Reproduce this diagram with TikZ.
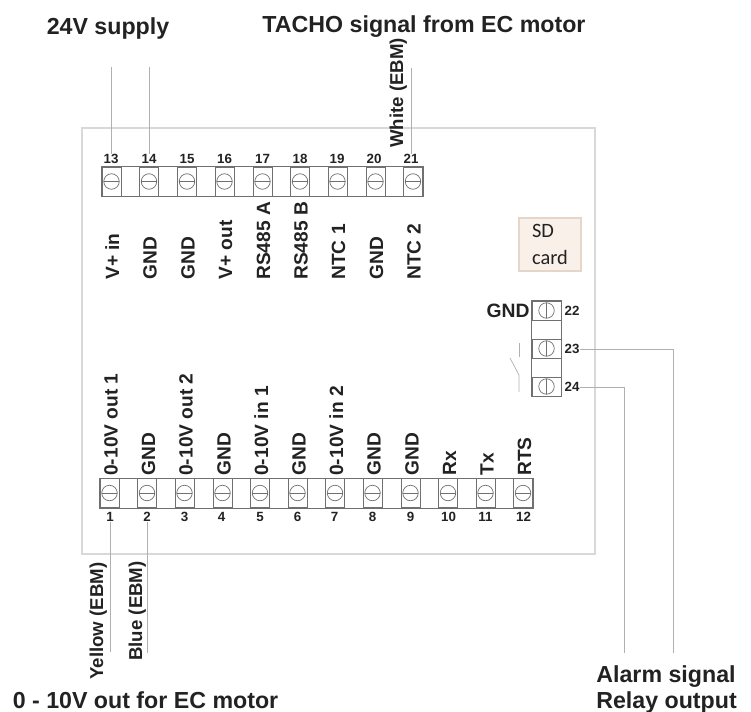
\documentclass[tikz,border=0pt]{standalone}
\usepackage{fontspec}
\setmainfont{Liberation Sans}
\newfontfamily\cardfont{Carlito}
\definecolor{framegrey}{HTML}{D8D8D8}
\definecolor{wiregrey}{HTML}{B0B0B0}
\definecolor{pingrey}{HTML}{707070}
\definecolor{inkgrey}{HTML}{222222}
\definecolor{cardfill}{HTML}{FAF0EA}
\definecolor{cardline}{HTML}{E6D6CA}
\tikzset{
    termh/.style={draw=pingrey, minimum width=0.38cm, minimum height=0.58cm, inner sep=0pt,
        path picture={
            \draw[pingrey] (path picture bounding box.center) circle (0.155cm);
            \draw[pingrey] ([xshift=-0.155cm]path picture bounding box.center) -- ([xshift=0.155cm]path picture bounding box.center);
        }},
    termv/.style={draw=pingrey, minimum width=0.58cm, minimum height=0.38cm, inner sep=0pt,
        path picture={
            \draw[pingrey] (path picture bounding box.center) circle (0.155cm);
            \draw[pingrey] ([yshift=-0.155cm]path picture bounding box.center) -- ([yshift=0.155cm]path picture bounding box.center);
        }},
    pinnum/.style={inner sep=0pt, text=inkgrey, font=\fontsize{7.6}{9}\selectfont\bfseries},
    pinlabel/.style={inner sep=0pt, rotate=90, anchor=base west, text=inkgrey, font=\fontsize{10.9}{13}\selectfont\bfseries},
    wirelabel/.style={inner sep=0pt, rotate=90, anchor=base west, text=inkgrey, font=\fontsize{10.6}{12}\selectfont\bfseries},
    heading/.style={inner sep=0pt, anchor=base, text=inkgrey, font=\fontsize{13.2}{15}\selectfont\bfseries},
    wire/.style={draw=wiregrey, line width=0.4pt}
}
\begin{document}
\begin{tikzpicture}
    \useasboundingbox (0, 0) rectangle (15.02, 14.22);

    \node (board) at (6.77, 7.40) [draw=framegrey, line width=0.8pt, minimum width=10.26cm, minimum height=8.52cm] {};
    \node (sd) at (11.0, 9.33) [draw=cardline, fill=cardfill, line width=0.8pt, minimum width=1.24cm, minimum height=1.06cm, align=left, text=inkgrey, font=\fontsize{11.6}{15}\selectfont\cardfont] {SD\\card};

    \node (t13) at (2.23, 10.59) [termh] {};
    \node (t14) at (2.98, 10.59) [termh] {};
    \node (t15) at (3.74, 10.59) [termh] {};
    \node (t16) at (4.49, 10.59) [termh] {};
    \node (t17) at (5.25, 10.59) [termh] {};
    \node (t18) at (6.00, 10.59) [termh] {};
    \node (t19) at (6.75, 10.59) [termh] {};
    \node (t20) at (7.51, 10.59) [termh] {};
    \node (t21) at (8.26, 10.59) [termh] {};
    \draw[pingrey] (t13.north west) rectangle (t21.south east);

    \node (t1) at (2.19, 4.36) [termh] {};
    \node (t2) at (2.94, 4.36) [termh] {};
    \node (t3) at (3.69, 4.36) [termh] {};
    \node (t4) at (4.45, 4.36) [termh] {};
    \node (t5) at (5.20, 4.36) [termh] {};
    \node (t6) at (5.95, 4.36) [termh] {};
    \node (t7) at (6.70, 4.36) [termh] {};
    \node (t8) at (7.45, 4.36) [termh] {};
    \node (t9) at (8.21, 4.36) [termh] {};
    \node (t10) at (8.96, 4.36) [termh] {};
    \node (t11) at (9.71, 4.36) [termh] {};
    \node (t12) at (10.46, 4.36) [termh] {};
    \draw[pingrey] (t1.north west) rectangle (t12.south east);

    \node (t22) at (10.93, 8.01) [termv] {};
    \node (t23) at (10.93, 7.25) [termv] {};
    \node (t24) at (10.93, 6.49) [termv] {};
    \draw[pingrey] (t22.north west) rectangle (t24.south east);

    \node (n13) at (2.22, 11.04) [pinnum] {13};
    \node (n14) at (2.98, 11.04) [pinnum] {14};
    \node (n15) at (3.74, 11.04) [pinnum] {15};
    \node (n16) at (4.49, 11.04) [pinnum] {16};
    \node (n17) at (5.25, 11.04) [pinnum] {17};
    \node (n18) at (6.00, 11.04) [pinnum] {18};
    \node (n19) at (6.74, 11.04) [pinnum] {19};
    \node (n20) at (7.48, 11.04) [pinnum] {20};
    \node (n21) at (8.22, 11.04) [pinnum] {21};

    \node (n1) at (2.20, 3.88) [pinnum] {1};
    \node (n2) at (2.94, 3.88) [pinnum] {2};
    \node (n3) at (3.69, 3.88) [pinnum] {3};
    \node (n4) at (4.43, 3.88) [pinnum] {4};
    \node (n5) at (5.20, 3.88) [pinnum] {5};
    \node (n6) at (5.95, 3.88) [pinnum] {6};
    \node (n7) at (6.69, 3.88) [pinnum] {7};
    \node (n8) at (7.45, 3.88) [pinnum] {8};
    \node (n9) at (8.21, 3.88) [pinnum] {9};
    \node (n10) at (8.97, 3.88) [pinnum] {10};
    \node (n11) at (9.71, 3.88) [pinnum] {11};
    \node (n12) at (10.47, 3.88) [pinnum] {12};

    \node (n22) at (11.44, 8.00) [pinnum] {22};
    \node (n23) at (11.44, 7.24) [pinnum] {23};
    \node (n24) at (11.44, 6.48) [pinnum] {24};

    \node (l13) at (2.38, 8.62) [pinlabel] {V+ in};
    \node (l14) at (3.13, 8.62) [pinlabel] {GND};
    \node (l15) at (3.89, 8.62) [pinlabel] {GND};
    \node (l16) at (4.64, 8.62) [pinlabel] {V+ out};
    \node (l17) at (5.40, 8.62) [pinlabel] {RS485 A};
    \node (l18) at (6.15, 8.62) [pinlabel] {RS485 B};
    \node (l19) at (6.90, 8.62) [pinlabel] {NTC 1};
    \node (l20) at (7.66, 8.62) [pinlabel] {GND};
    \node (l21) at (8.41, 8.62) [pinlabel] {NTC 2};

    \node (l1) at (2.35, 4.70) [pinlabel] {0-10V out 1};
    \node (l2) at (3.10, 4.70) [pinlabel] {GND};
    \node (l3) at (3.85, 4.70) [pinlabel] {0-10V out 2};
    \node (l4) at (4.61, 4.70) [pinlabel] {GND};
    \node (l5) at (5.36, 4.70) [pinlabel] {0-10V in 1};
    \node (l6) at (6.11, 4.70) [pinlabel] {GND};
    \node (l7) at (6.86, 4.70) [pinlabel] {0-10V in 2};
    \node (l8) at (7.61, 4.70) [pinlabel] {GND};
    \node (l9) at (8.37, 4.70) [pinlabel] {GND};
    \node (l10) at (9.12, 4.70) [pinlabel] {Rx};
    \node (l11) at (9.87, 4.70) [pinlabel] {Tx};
    \node (l12) at (10.62, 4.70) [pinlabel] {RTS};

    \node (l22) at (10.16, 8.00) [inner sep=0pt, text=inkgrey, font=\fontsize{11}{13}\selectfont\bfseries] {GND};

    \coordinate (c13) at (2.22, 12.88);
    \coordinate (c14) at (2.98, 12.88);
    \coordinate (c21) at (8.22, 12.86);
    \coordinate (c1) at (2.20, 1.18);
    \coordinate (c2) at (2.94, 1.16);
    \coordinate (c23) at (13.46, 1.16);
    \coordinate (c24) at (12.48, 1.16);

    \draw[wire] (c13) -- (n13);
    \draw[wire] (c14) -- (n14);
    \draw[wire] (c21) -- (n21);
    \draw[wire] (n1) -- (c1);
    \draw[wire] (n2) -- (c2);
    \draw[wire] (n23) -| (c23);
    \draw[wire] (n24) -| (c24);

    \coordinate (s1) at (10.38, 7.36);
    \coordinate (s2) at (10.38, 7.08);
    \coordinate (s3) at (10.20, 7.06);
    \coordinate (s4) at (10.38, 6.72);
    \coordinate (s5) at (10.38, 6.38);
    \draw[wire] (s1) -- (s2);
    \draw[wire] (s3) -- (s4) -- (s5);

    \node (lwhite) at (8.06, 11.26) [wirelabel] {White (EBM)};
    \node (lyellow) at (2.06, 0.62) [wirelabel] {Yellow (EBM)};
    \node (lblue) at (2.84, 1.00) [wirelabel] {Blue (EBM)};

    \node (h1) at (2.16, 13.52) [heading] {24V supply};
    \node (h2) at (8.48, 13.56) [heading] {TACHO signal from EC motor};
    \node (h3) at (2.91, 0.06) [heading] {0 - 10V out for EC motor};
    \node (h4) at (13.32, 0.58) [heading] {Alarm signal};
    \node (h5) at (13.33, 0.05) [heading] {Relay output};
\end{tikzpicture}
\end{document}
